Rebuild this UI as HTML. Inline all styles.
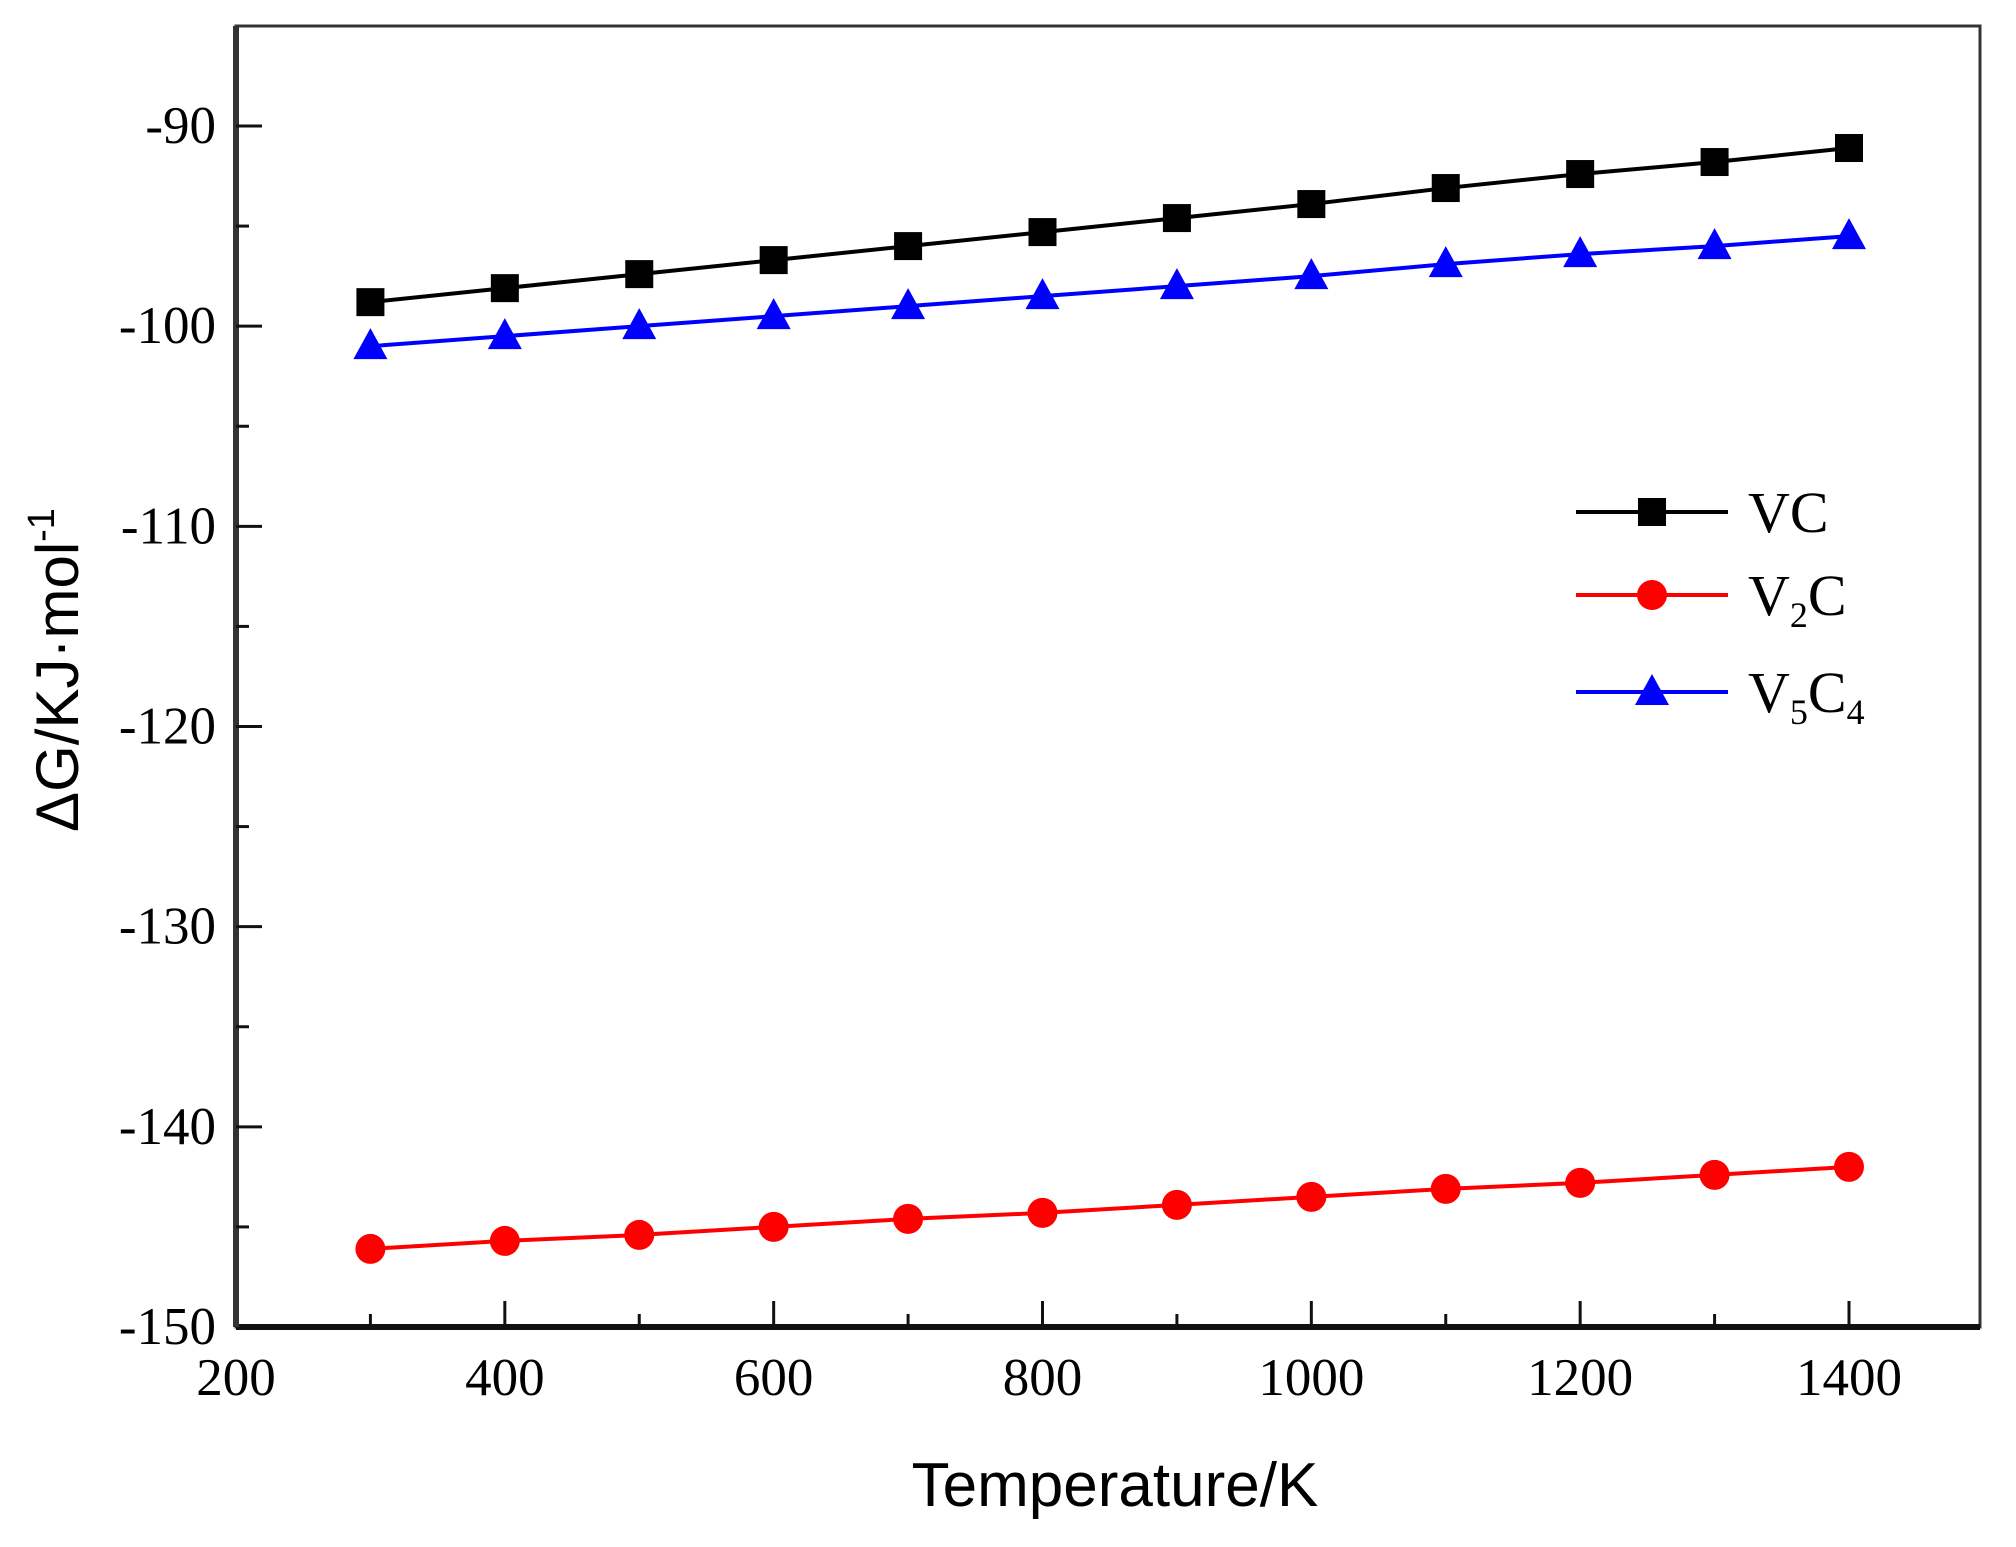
<!DOCTYPE html>
<html><head><meta charset="utf-8"><style>
html,body{margin:0;padding:0;background:#fff;}
svg{display:block;}
text{font-family:"Liberation Serif",serif;}
</style></head><body>
<svg id="chart" width="2016" height="1547" viewBox="0 0 2016 1547" xmlns="http://www.w3.org/2000/svg">
<g id="axes"></g><g id="series"></g><g id="legend"></g>
<text x="1115" y="1506" text-anchor="middle" style="font-family:'Liberation Sans',sans-serif;font-size:62px">Temperature/K</text>
<text transform="translate(78,670) rotate(-90)" text-anchor="middle" style="font-family:'Liberation Sans',sans-serif;font-size:60px">ΔG/KJ·mol<tspan dy="-24" font-size="38">-1</tspan></text>
</svg>
<script>
const temps=[300,400,500,600,700,800,900,1000,1100,1200,1300,1400];
const vcValues=[-98.8,-98.1,-97.4,-96.7,-96.0,-95.3,-94.6,-93.9,-93.1,-92.4,-91.8,-91.1];
const v2cValues=[-146.1,-145.7,-145.4,-145.0,-144.6,-144.3,-143.9,-143.5,-143.1,-142.8,-142.4,-142.0];
const v5c4Values=[-101.0,-100.5,-100.0,-99.5,-99.0,-98.5,-98.0,-97.5,-96.9,-96.4,-96.0,-95.5];
const xTickLabels=[200,400,600,800,1000,1200,1400];
const yTickLabels=[-90,-100,-110,-120,-130,-140,-150];
const NS="http://www.w3.org/2000/svg";
const L=236,R=1980,T=26,B=1327;
const X0=200,X1=1400,PX0=236,PX1=1849;
const Y0=-150,Y1=-90,PY0=1327,PY1=126;
function sx(v){return PX0+(v-X0)*(PX1-PX0)/(X1-X0);}
function sy(v){return PY0+(v-Y0)*(PY1-PY0)/(Y1-Y0);}
function mk(tag,attrs,parent){const e=document.createElementNS(NS,tag);for(const k in attrs)e.setAttribute(k,attrs[k]);parent.appendChild(e);return e;}
const ax=document.getElementById('axes');
let f=mk('rect',{x:L,y:T,width:R-L,height:B-T,fill:'none',stroke:'#333','stroke-width':3},ax);


mk('line',{x1:L,y1:B,x2:R,y2:B,stroke:'#111','stroke-width':6},ax);
mk('line',{x1:L,y1:T,x2:L,y2:B,stroke:'#333','stroke-width':6},ax);
for(let v=300;v<=1400;v+=100){
  const major=(v%200===0);
  let t=mk('line',{x1:sx(v),y1:B,x2:sx(v),y2:B-(major?26:13),stroke:'#111','stroke-width':3},ax);
  
  
}
xTickLabels.forEach(v=>{
  let t=mk('text',{x:sx(v),y:B+68,'text-anchor':'middle','font-size':53},ax);
  t.textContent=v;
  
  
});
for(let v=-145;v<=-90;v+=5){
  const major=(v%10===0);
  let t=mk('line',{x1:L,y1:sy(v),x2:L+(major?26:13),y2:sy(v),stroke:'#111','stroke-width':3},ax);
  
  
}
yTickLabels.forEach(v=>{
  let t=mk('text',{x:L-20,y:sy(v)+17,'text-anchor':'end','font-size':53},ax);
  t.textContent=v;
  
  
});
function marker(type,x,y,color,parent){
  if(type==='sq')return mk('rect',{x:x-14,y:y-14,width:28,height:28,fill:color},parent);
  if(type==='ci')return mk('circle',{cx:x,cy:y,r:15,fill:color},parent);
  return mk('polygon',{points:`${x},${y-18} ${x+17},${y+13} ${x-17},${y+13}`,fill:color},parent);
}
const sg=document.getElementById('series');
[['vc',vcValues,'#000','sq'],['v2c',v2cValues,'#ff0000','ci'],['v5c4',v5c4Values,'#0000ff','tr']].forEach(([n,vals,c,m])=>{
  const g=mk('g',{},sg);
  
  
  const pl=mk('polyline',{points:temps.map((t,i)=>sx(t)+','+sy(vals[i])).join(' '),fill:'none',stroke:c,'stroke-width':4},g);
  
  
  temps.forEach((t,i)=>{
    const p=marker(m,sx(t),sy(vals[i]),c,g);
    
    
  });
});
const lg=document.getElementById('legend');
const leg=[['VC','#000','sq',512],['V<tspan dy="12" font-size="36">2</tspan><tspan dy="-12">C</tspan>','#ff0000','ci',595],['V<tspan dy="12" font-size="36">5</tspan><tspan dy="-12">C</tspan><tspan dy="12" font-size="36">4</tspan>','#0000ff','tr',692]];
leg.forEach(([lab,c,m,y])=>{
  const g=mk('g',{},lg);
  
  
  mk('line',{x1:1576,y1:y,x2:1728,y2:y,stroke:c,'stroke-width':4},g);
  marker(m,1652,y,c,g);
  const t=mk('text',{x:1748,y:y+20,'font-size':58},g);
  t.innerHTML=lab;
});
</script>
</body></html>
